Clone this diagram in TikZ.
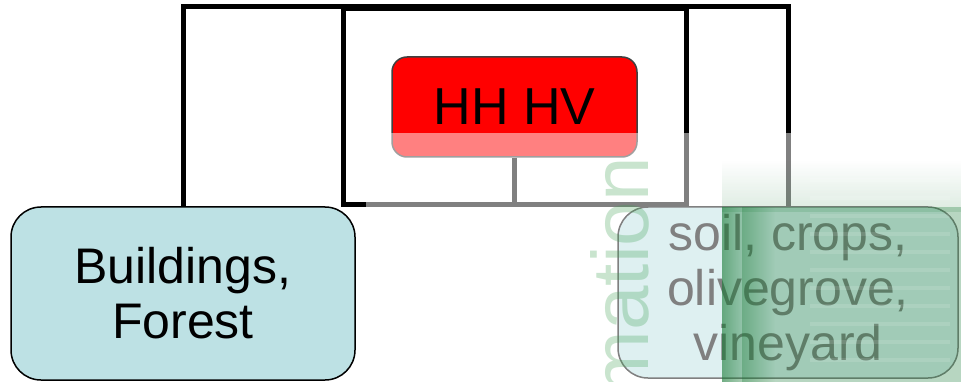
\documentclass[tikz,border=0pt]{standalone}
\usepackage{fontspec}
\setmainfont{Liberation Sans}
\usepackage{tikz}
\usetikzlibrary{positioning,fadings}
\definecolor{hhred}{RGB}{255,0,0}
\definecolor{landcyan}{RGB}{189,225,228}
\definecolor{bggreen}{RGB}{20,120,50}
\definecolor{wmgreen}{RGB}{60,160,80}
\tikzstyle{conn} = [line width=5pt, color=black]
\tikzstyle{classbox} = [rectangle, rounded corners=30pt, draw=black, line width=1.5pt, fill=landcyan, text centered, align=center, font=\fontsize{50}{55}\selectfont]

\begin{document}
\begin{tikzpicture}[x=1pt, y=1pt]
    \useasboundingbox (0,0) rectangle (961,-382);
    \clip (0,0) rectangle (961,-382);

    % Nodes
    \node[draw, line width=5pt, minimum width=343pt, minimum height=196pt, inner sep=0pt] (frame) at (514.5,-107) {};
    \node[classbox, minimum width=344pt, minimum height=173pt] (bld) at (183,-293.5) {Buildings,\\Forest};
    \node[classbox, minimum width=340pt, minimum height=171pt] (soil) at (788,-292.5) {soil, crops,\\olivegrove,\\vineyard};

    % Connectors
    \draw[conn] (bld.north) |- (frame.north) -| (soil.north);
    \node[rectangle, rounded corners=15pt, draw=black!75, line width=1.5pt, fill=hhred, minimum width=245pt, minimum height=100pt, font=\fontsize{52}{55}\selectfont] (hhhv) at (514.5,-107) {HH HV};
    \draw[conn] (hhhv.south) -- (hhhv.south |- frame.south);

    % Faded lower right
    \fill[white, opacity=0.5] (366,-133) rectangle (961,-382);

    % Background picture showing through
    \node[rotate=90, anchor=base east, inner sep=0pt, text=wmgreen, opacity=0.28, font=\fontsize{80}{80}\selectfont] (wmark) at (648,-157) {mation};
    \fill[bggreen, opacity=0.15, path fading=north] (722,-160) rectangle (961,-212);
    \fill[bggreen, opacity=0.3] (742,-207) rectangle (961,-382);
    \fill[bggreen, opacity=0.6, path fading=east] (722,-207) rectangle (775,-382);
    \foreach \y in {180,198,...,372}
        \draw[white, opacity=0.12, line width=4pt] (810,-\y) -- (950,-\y);
\end{tikzpicture}
\end{document}
